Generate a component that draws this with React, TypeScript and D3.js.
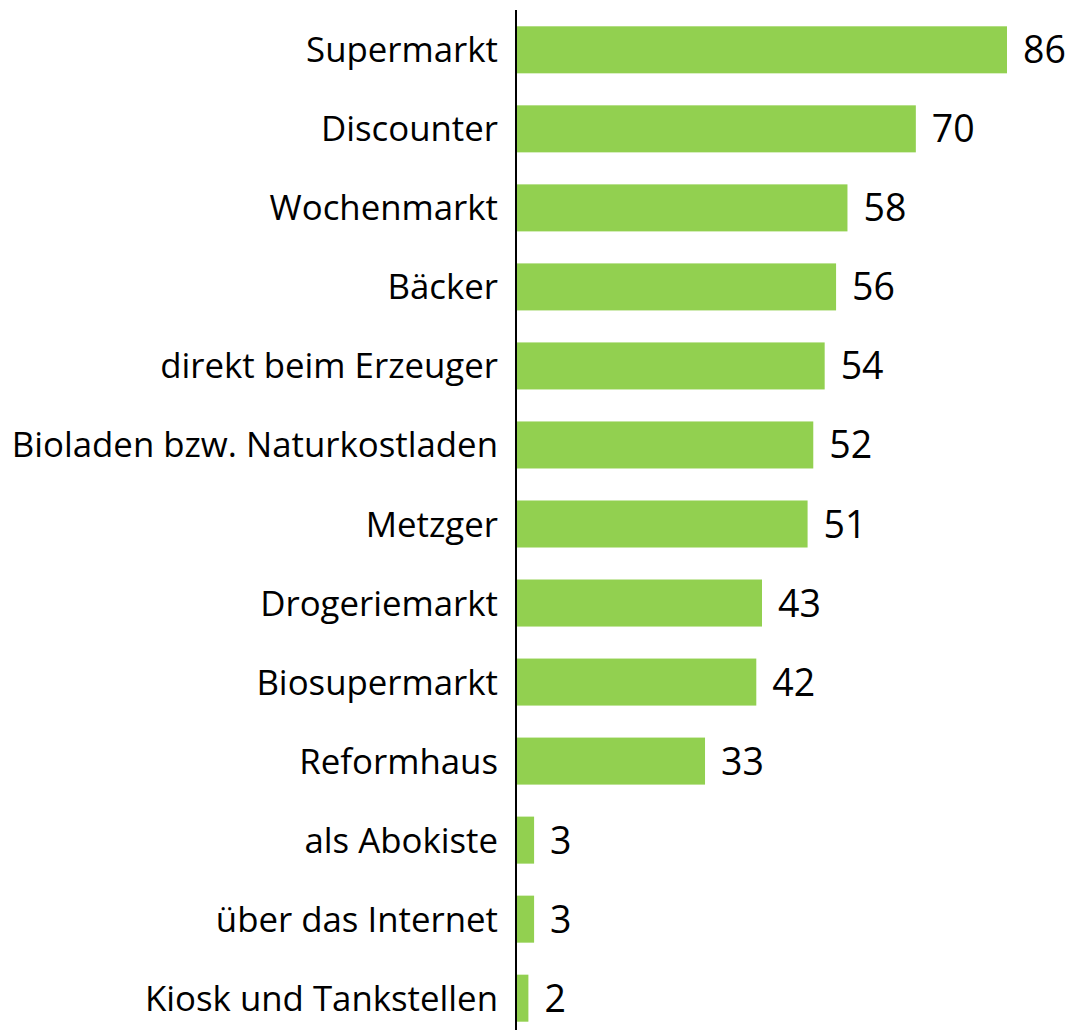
import React from "react";
import * as d3 from "d3";

const categories = [
  "Supermarkt",
  "Discounter",
  "Wochenmarkt",
  "Bäcker",
  "direkt beim Erzeuger",
  "Bioladen bzw. Naturkostladen",
  "Metzger",
  "Drogeriemarkt",
  "Biosupermarkt",
  "Reformhaus",
  "als Abokiste",
  "über das Internet",
  "Kiosk und Tankstellen",
];
const values = [86, 70, 58, 56, 54, 52, 51, 43, 42, 33, 3, 3, 2];

const W = 1072;
const H = 1030;
const axisX = 516;

export default function App() {
  const x = d3.scaleLinear().domain([0, 86]).range([axisX + 1, 1007]);
  const y = d3
    .scaleBand()
    .domain(categories)
    .range([10.5, 1037.5])
    .paddingInner(0.405)
    .paddingOuter(0.2);
  const font = "'Open Sans', 'Noto Sans', sans-serif";
  return (
    <svg
      width={W}
      height={H}
      style={{ position: "absolute", left: 0, top: 0, background: "#fff" }}
    >
      {categories.map((c, i) => {
        const yy = y(c)!;
        const bh = y.bandwidth();
        return (
          <g key={c}>
            <rect
              x={x(0)}
              y={yy}
              width={x(values[i]) - x(0)}
              height={bh}
              fill="#92D050"
            />
            <text
              x={axisX - 18}
              y={yy + bh / 2}
              dy="0.36em"
              textAnchor="end"
              fontFamily={font}
              fontSize={34.8}
              fill="#000"
            >
              {c}
            </text>
            <text
              x={x(values[i]) + 16}
              y={yy + bh / 2}
              dy="0.36em"
              textAnchor="start"
              fontFamily={font}
              fontSize={37.5}
              fill="#000"
            >
              {values[i]}
            </text>
          </g>
        );
      })}
      <line x1={axisX} x2={axisX} y1={10} y2={H} stroke="#000" strokeWidth={2} />
    </svg>
  );
}
